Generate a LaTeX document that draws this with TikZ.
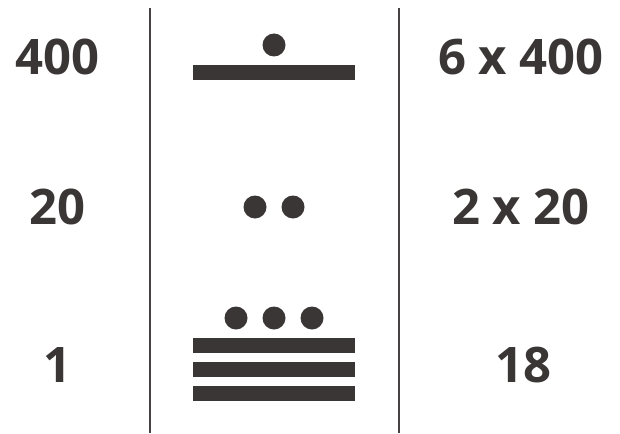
\documentclass[tikz,border=0pt]{standalone}
\usepackage{fontspec}
\setmainfont{Open Sans}
\usepackage{xcolor}
\usepackage{tikz}
\usetikzlibrary{positioning}
\definecolor{glyphgray}{RGB}{58,54,53}
\definecolor{rulegray}{RGB}{70,66,66}
\tikzstyle{numlabel} = [inner sep=0pt, text=glyphgray, font=\fontsize{49}{51}\selectfont\bfseries]
\tikzstyle{dot} = [circle, fill=glyphgray, minimum size=23pt, inner sep=0pt]
\tikzstyle{bar} = [rectangle, fill=glyphgray, minimum width=162pt, minimum height=15pt, inner sep=0pt]
\tikzstyle{divider} = [rulegray, line width=2pt]

\begin{document}
\begin{tikzpicture}[x=1pt, y=-1pt]
\useasboundingbox (0,0) rectangle (620,433);
% Place values
\node[numlabel] (v400) at (57,57) {400};
\node[numlabel] (v20) at (57,207) {20};
\node[numlabel] (v1) at (57,365) {1};
% Dividers
\coordinate (ltop) at (150,8);
\coordinate (lbot) at (150,433);
\coordinate (rtop) at (399,8);
\coordinate (rbot) at (399,433);
\draw[divider] (ltop) -- (lbot);
\draw[divider] (rtop) -- (rbot);
% Top level: one bar, one dot
\node[bar] (bartop) at (274,73) {};
\node[dot] (d400) at (274,45) {};
% Middle level: two dots
\node[dot] (d20a) at (255,207) {};
\node[dot] (d20b) at (293,207) {};
% Bottom level: three dots over three bars
\node[dot] (d1a) at (236,318) {};
\node[dot] (d1b) at (274,318) {};
\node[dot] (d1c) at (312,318) {};
\node[bar] (bar1) at (274,345.5) {};
\node[bar] (bar2) at (274,369) {};
\node[bar] (bar3) at (274,393) {};
% Products
\node[numlabel] (p400) at (521,57) {6 x 400};
\node[numlabel] (p20) at (521,207) {2 x 20};
\node[numlabel] (p1) at (523,365) {18};
\end{tikzpicture}
\end{document}
